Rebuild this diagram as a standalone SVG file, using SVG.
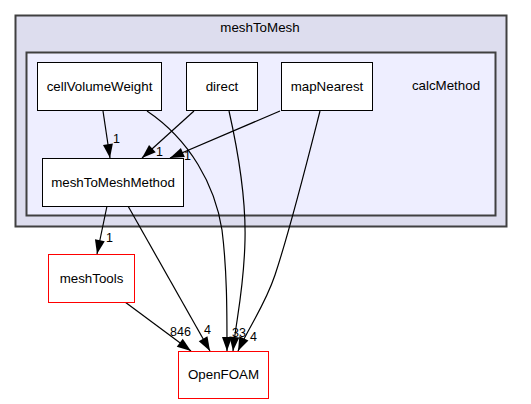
<svg xmlns="http://www.w3.org/2000/svg" width="531" height="404" viewBox="0 0 531 404">
<style>
text{font-family:"Liberation Sans",Arial,sans-serif;font-size:13.33px;fill:#000}
.c{text-anchor:middle}
.l{font-size:12.5px}
.node{fill:#fff;stroke:#000;stroke-width:1}
.red{fill:#fff;stroke:#ff0000;stroke-width:1}
.e{fill:none;stroke:#000;stroke-width:1.2}
</style>
<defs>
<marker id="ah" markerUnits="userSpaceOnUse" markerWidth="16" markerHeight="12" refX="14" refY="5" orient="auto" overflow="visible">
<path d="M0,0 L14,5 L0,10 Z" fill="#000"/>
</marker>
</defs>
<g id="cluster_meshToMesh">
<rect x="15.5" y="15.5" width="491" height="211" fill="#ddddee" stroke="#404040" stroke-width="2"/>
<text class="c" x="260" y="32">meshToMesh</text>
</g>
<g id="cluster_calcMethod">
<rect x="26.5" y="52.5" width="469" height="163" fill="#eeeeff" stroke="#404040" stroke-width="2"/>
<text class="c" x="446" y="90">calcMethod</text>
</g>
<g id="connectors">
<path class="e" d="M103,111 L110,158" marker-end="url(#ah)"/>
<text class="l" x="113" y="143">1</text>
<path class="e" d="M194,111 L142,158" marker-end="url(#ah)"/>
<text class="l" x="156" y="156">1</text>
<path class="e" d="M280,111 L170,158" marker-end="url(#ah)"/>
<text class="l" x="184" y="160">1</text>
<path class="e" d="M107,206 L97,254" marker-end="url(#ah)"/>
<text class="l" x="106" y="242">1</text>
<path class="e" d="M128,206 L210,351" marker-end="url(#ah)"/>
<text class="l" x="204" y="334">4</text>
<path class="e" d="M125,302 L191,351" marker-end="url(#ah)"/>
<text class="l" x="170" y="336">846</text>
<path class="e" d="M147,111 C190,140 215,185 222,230 C227,270 227,310 227,351" marker-end="url(#ah)"/>
<path class="e" d="M229,111 C240,160 246,200 245,240 C244,290 236,320 233,351" marker-end="url(#ah)"/>
<text class="l" x="232" y="337">3</text>
<text class="l" x="239" y="337">3</text>
<path class="e" d="M320,111 C305,170 290,230 275,275 C265,305 250,325 238,351" marker-end="url(#ah)"/>
<text class="l" x="250" y="341">4</text>
</g>
<g id="node_cellVolumeWeight">
<rect class="node" x="37.5" y="62.5" width="124" height="48"/>
<text class="c" x="99.5" y="91">cellVolumeWeight</text>
</g>
<g id="node_direct">
<rect class="node" x="186.5" y="62.5" width="71" height="48"/>
<text class="c" x="222" y="91">direct</text>
</g>
<g id="node_mapNearest">
<rect class="node" x="281.5" y="62.5" width="91" height="48"/>
<text class="c" x="327" y="91">mapNearest</text>
</g>
<g id="node_meshToMeshMethod">
<rect class="node" x="42.5" y="158.5" width="141" height="48"/>
<text class="c" x="113" y="187">meshToMeshMethod</text>
</g>
<g id="node_meshTools">
<rect class="red" x="48.5" y="254.5" width="86" height="48"/>
<text class="c" x="91.5" y="283">meshTools</text>
</g>
<g id="node_OpenFOAM">
<rect class="red" x="178.5" y="351.5" width="90" height="47"/>
<text class="c" x="223.5" y="379">OpenFOAM</text>
</g>
</svg>
